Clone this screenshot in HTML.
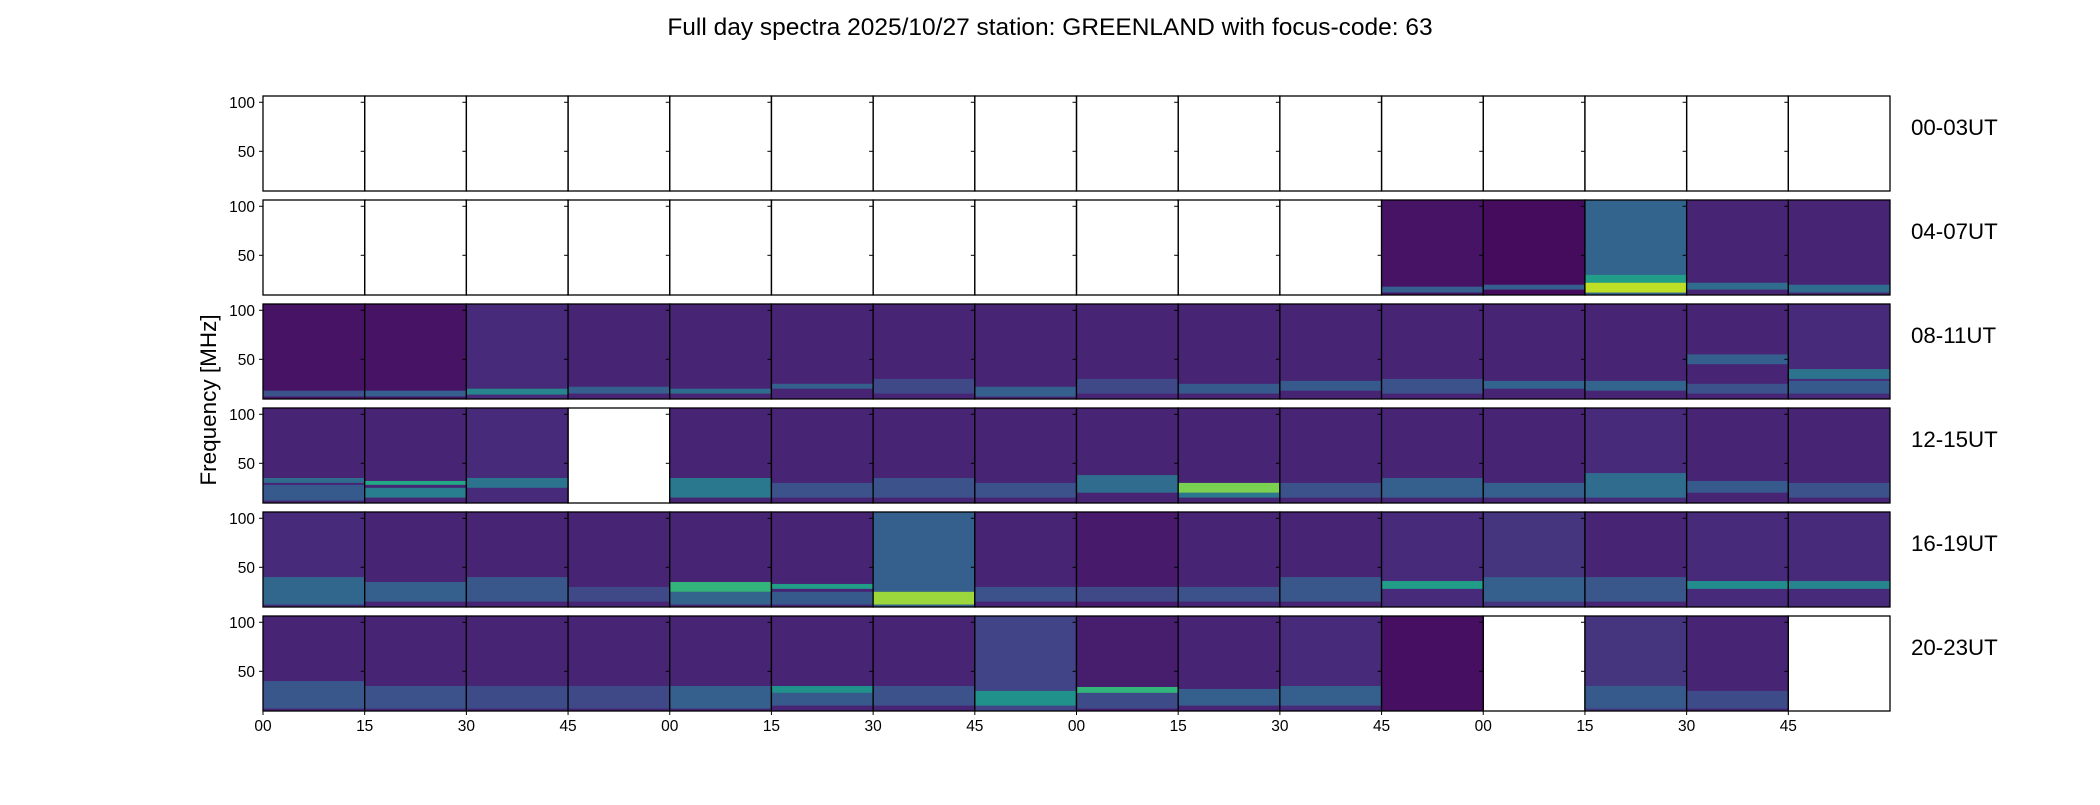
<!DOCTYPE html>
<html><head><meta charset="utf-8">
<style>
html,body{margin:0;padding:0;background:#fff;}
svg text{font-family:"Liberation Sans","DejaVu Sans",sans-serif;fill:#000;}
</style></head>
<body>
<svg id="chart" width="2100" height="800" viewBox="0 0 2100 800" xmlns="http://www.w3.org/2000/svg">
<text x="1050" y="35" font-size="24.5" text-anchor="middle">Full day spectra 2025/10/27 station: GREENLAND with focus-code: 63</text>
<text transform="translate(216,400) rotate(-90)" font-size="22.5" text-anchor="middle">Frequency [MHz]</text>
<g id="panels"></g>
</svg>
<script>
const rowLabels = ["00-03UT","04-07UT","08-11UT","12-15UT","16-19UT","20-23UT"];
const xTickLabels = ["00","15","30","45","00","15","30","45","00","15","30","45","00","15","30","45"];
const yTicks = [50,100];
const freqMin = 9.5, freqMax = 106.4;
// base intensity per panel (row-major, 16 per row); -1 = no data (blank)
const baseRow0 = [-1,-1,-1,-1,-1,-1,-1,-1,-1,-1,-1,-1,-1,-1,-1,-1];
const baseRow1 = [-1,-1,-1,-1,-1,-1,-1,-1,-1,-1,-1,0.05,0.03,0.32,0.1,0.1];
const baseRow2 = [0.05,0.05,0.12,0.1,0.1,0.1,0.1,0.1,0.1,0.1,0.1,0.1,0.1,0.1,0.1,0.12];
const baseRow3 = [0.1,0.1,0.12,-1,0.1,0.1,0.1,0.1,0.1,0.1,0.1,0.1,0.1,0.12,0.1,0.1];
const baseRow4 = [0.12,0.1,0.1,0.1,0.1,0.1,0.3,0.1,0.07,0.1,0.1,0.12,0.15,0.1,0.12,0.12];
const baseRow5 = [0.1,0.1,0.1,0.1,0.1,0.1,0.1,0.2,0.08,0.1,0.12,0.04,-1,0.15,0.1,-1];
// emission bands: [row, col, freqLow, freqHigh, intensity]
const bands = [
 [1,11,12,18,0.3],[1,12,15,20,0.3],[1,13,22,30,0.55],[1,13,12,22,0.9],[1,14,15,22,0.35],[1,15,12,20,0.35],
 [2,0,12,18,0.25],[2,1,12,18,0.3],[2,2,14,20,0.45],[2,3,15,22,0.3],[2,4,15,20,0.35],[2,5,20,25,0.3],[2,6,15,30,0.22],[2,7,12,22,0.3],[2,8,15,30,0.22],[2,9,15,25,0.28],[2,10,18,28,0.28],[2,11,15,30,0.25],[2,12,20,28,0.32],[2,13,18,28,0.32],[2,14,45,55,0.3],[2,14,15,25,0.25],[2,15,30,40,0.38],[2,15,15,28,0.28],
 [3,0,30,35,0.35],[3,0,12,28,0.28],[3,1,28,32,0.6],[3,1,15,25,0.42],[3,2,25,35,0.38],[3,4,15,35,0.4],[3,5,15,30,0.25],[3,6,15,35,0.25],[3,7,15,30,0.25],[3,8,20,38,0.35],[3,9,15,20,0.4],[3,9,20,30,0.8],[3,10,15,30,0.25],[3,11,15,35,0.3],[3,12,15,30,0.3],[3,13,15,40,0.35],[3,14,20,32,0.28],[3,15,15,30,0.25],
 [4,0,12,40,0.33],[4,1,15,35,0.3],[4,2,15,40,0.27],[4,3,15,30,0.22],[4,4,12,25,0.32],[4,4,25,35,0.65],[4,5,12,25,0.28],[4,5,28,33,0.55],[4,6,12,25,0.85],[4,7,15,30,0.25],[4,8,15,30,0.22],[4,9,15,30,0.25],[4,10,15,40,0.27],[4,11,28,36,0.55],[4,12,15,40,0.3],[4,13,15,40,0.27],[4,14,28,36,0.48],[4,15,28,36,0.45],
 [5,0,12,40,0.27],[5,1,12,35,0.25],[5,2,12,35,0.23],[5,3,12,35,0.22],[5,4,12,35,0.3],[5,5,15,28,0.28],[5,5,28,35,0.5],[5,6,15,35,0.25],[5,7,15,30,0.5],[5,8,12,28,0.23],[5,8,28,34,0.65],[5,9,15,32,0.3],[5,10,15,35,0.3],[5,13,12,35,0.28],[5,14,12,30,0.23]
];
const bases = [baseRow0,baseRow1,baseRow2,baseRow3,baseRow4,baseRow5];

const vir = ["#440154","#482475","#414487","#355f8d","#2a788e","#21918c","#22a884","#44bf70","#7ad151","#bddf26","#fde725"];
function hex(c){return [parseInt(c.slice(1,3),16),parseInt(c.slice(3,5),16),parseInt(c.slice(5,7),16)];}
function viridis(t){t=Math.max(0,Math.min(1,t));const p=t*10,i=Math.min(9,Math.floor(p)),f=p-i;const a=hex(vir[i]),b=hex(vir[i+1]);return "rgb("+a.map((v,k)=>Math.round(v+(b[k]-v)*f)).join(",")+")";}

const L=263, R=1890, ncol=16, colW=(R-L)/ncol, rowTop0=96, rowStep=104, pH=95;
const NS="http://www.w3.org/2000/svg";
const g=document.getElementById("panels");
function mk(t,a){const e=document.createElementNS(NS,t);for(const k in a)e.setAttribute(k,a[k]);return e;}
function yScale(top,f){return top+(freqMax-f)/(freqMax-freqMin)*pH;}

for(let r=0;r<6;r++){
  const top=rowTop0+r*rowStep;
  for(let c=0;c<ncol;c++){
    const x=L+c*colW;
    const b=bases[r][c];
    const pg=mk("g",{});
    
    
    if(b>=0){
      const bg=mk("rect",{x:x,y:top,width:colW,height:pH,fill:viridis(b)});
      
      
      pg.appendChild(bg);
      bands.filter(d=>d[0]===r&&d[1]===c).forEach(d=>{
        const y1=yScale(top,d[3]),y2=yScale(top,d[2]);
        const br=mk("rect",{x:x,y:y1,width:colW,height:y2-y1,fill:viridis(d[4])});
        
        
        pg.appendChild(br);
      });
    }
    const fr=mk("rect",{x:x,y:top,width:colW,height:pH,fill:"none",stroke:"#000","stroke-width":1.3});
    
    
    pg.appendChild(fr);
    yTicks.forEach(v=>{
      const yy=yScale(top,v);
      const tk=mk("line",{x1:x-4,x2:x,y1:yy,y2:yy,stroke:"#000","stroke-width":1});
      
      
      pg.appendChild(tk);
      if(c===0){
        const tl=mk("text",{x:x-8,y:yy+5.5,"font-size":15.5,"text-anchor":"end"});
        tl.textContent=v;
        
        
        pg.appendChild(tl);
      }
    });
    if(r===5){
      const xt=mk("line",{x1:x,x2:x,y1:top+pH,y2:top+pH+4,stroke:"#000","stroke-width":1});
      
      
      pg.appendChild(xt);
      const xl=mk("text",{x:x,y:top+pH+20,"font-size":15.5,"text-anchor":"middle"});
      xl.textContent=xTickLabels[c];
      
      
      pg.appendChild(xl);
    }
    g.appendChild(pg);
  }
  const rl=mk("text",{x:1911,y:top+39,"font-size":22.3});
  rl.textContent=rowLabels[r];
  
  
  g.appendChild(rl);
}
</script>
</body></html>
